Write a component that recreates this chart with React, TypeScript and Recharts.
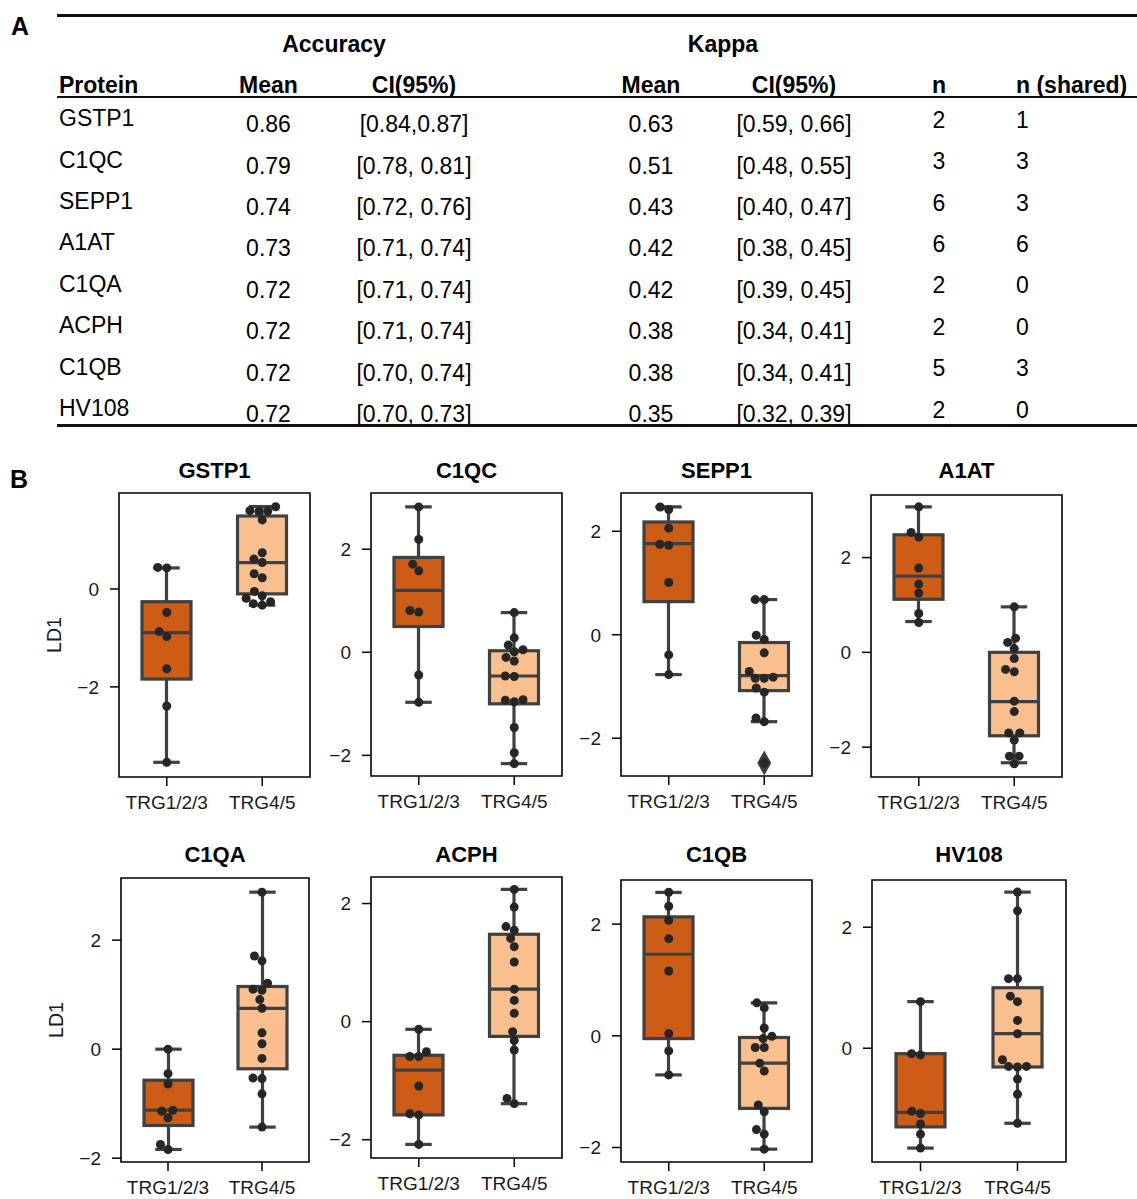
import React from "react";
import { ComposedChart, Bar, Scatter, XAxis, YAxis, ReferenceArea } from "recharts";

const FONT = '"Liberation Sans", Arial, Helvetica, sans-serif';
const INK = "#1a1a1a";
const BOX_EDGE = "#404040";
const DOT = "#262626";
const boxColors = ["#cd5c17", "#f9bf8f"];

// ---- panel A (table) ----
const proteins = ["GSTP1", "C1QC", "SEPP1", "A1AT", "C1QA", "ACPH", "C1QB", "HV108"];
const accMean = ["0.86", "0.79", "0.74", "0.73", "0.72", "0.72", "0.72", "0.72"];
const accCI = ["[0.84,0.87]", "[0.78, 0.81]", "[0.72, 0.76]", "[0.71, 0.74]", "[0.71, 0.74]", "[0.71, 0.74]", "[0.70, 0.74]", "[0.70, 0.73]"];
const kappaMean = ["0.63", "0.51", "0.43", "0.42", "0.42", "0.38", "0.38", "0.35"];
const kappaCI = ["[0.59, 0.66]", "[0.48, 0.55]", "[0.40, 0.47]", "[0.38, 0.45]", "[0.39, 0.45]", "[0.34, 0.41]", "[0.34, 0.41]", "[0.32, 0.39]"];
const nFeatures = [2, 3, 6, 6, 2, 2, 5, 2];
const nShared = [1, 3, 3, 6, 0, 0, 3, 0];

// ---- panel B (box plots), one pair [TRG1/2/3, TRG4/5] per protein ----
const groups = ["TRG1/2/3", "TRG4/5"];
const whiskerHigh = [[0.43, 1.68], [2.82, 0.77], [2.47, 0.68], [3.07, 0.96], [0.0, 2.88], [-0.13, 2.24], [2.57, 0.59], [0.77, 2.58]];
const q3 = [[-0.26, 1.49], [1.84, 0.03], [2.18, -0.15], [2.48, 0.0], [-0.57, 1.15], [-0.57, 1.48], [2.13, -0.03], [-0.09, 1.0]];
const medians = [[-0.89, 0.54], [1.2, -0.46], [1.76, -0.79], [1.61, -1.04], [-1.12, 0.75], [-0.82, 0.55], [1.46, -0.49], [-1.06, 0.24]];
const q1 = [[-1.84, -0.1], [0.5, -1.0], [0.64, -1.08], [1.12, -1.76], [-1.4, -0.36], [-1.58, -0.25], [-0.05, -1.3], [-1.3, -0.31]];
const whiskerLow = [[-3.54, -0.33], [-0.97, -2.16], [-0.77, -1.68], [0.65, -2.33], [-1.84, -1.43], [-2.08, -1.39], [-0.7, -2.03], [-1.65, -1.24]];

const trg123Points = [
  [0.44, 0.43, -0.48, -0.87, -0.97, -1.63, -2.39, -3.54],
  [2.82, 2.19, 1.71, 1.58, 0.81, 0.78, -0.44, -0.97],
  [2.47, 2.42, 2.06, 1.75, 1.73, 1.01, -0.39, -0.77],
  [3.07, 2.53, 2.43, 1.78, 1.44, 1.25, 0.82, 0.63],
  [0.0, -0.45, -0.64, -1.12, -1.14, -1.26, -1.75, -1.84],
  [-0.13, -0.51, -0.59, -0.59, -1.09, -1.56, -1.58, -2.08],
  [2.57, 2.32, 2.07, 1.74, 1.16, 0.04, -0.27, -0.7],
  [0.77, -0.09, -0.11, -1.04, -1.08, -1.25, -1.42, -1.65],
];
const trg45Points = [
  [1.68, 1.6, 1.59, 1.58, 1.41, 0.74, 0.61, 0.54, 0.31, 0.23, -0.05, -0.14, -0.19, -0.26, -0.3, -0.33],
  [0.77, 0.28, 0.14, 0.05, 0.01, -0.1, -0.17, -0.46, -0.47, -0.92, -0.93, -0.96, -1.46, -1.95, -2.16],
  [0.68, 0.68, -0.01, -0.09, -0.35, -0.71, -0.82, -0.84, -0.84, -1.03, -1.11, -1.61, -1.68, -2.48],
  [0.96, 0.3, 0.21, 0.08, -0.13, -0.36, -0.41, -1.03, -1.25, -1.7, -1.7, -1.85, -2.19, -2.19, -2.35],
  [2.88, 1.71, 1.62, 1.21, 1.1, 1.08, 0.91, 0.75, 0.3, 0.1, -0.17, -0.53, -0.54, -0.82, -1.43],
  [2.24, 1.94, 1.61, 1.55, 1.41, 1.27, 1.01, 0.55, 0.36, 0.14, -0.17, -0.32, -0.48, -1.3, -1.39],
  [0.59, 0.5, 0.14, -0.01, -0.05, -0.21, -0.21, -0.49, -0.63, -1.24, -1.36, -1.68, -1.76, -2.03],
  [2.58, 2.27, 1.15, 1.15, 0.86, 0.77, 0.46, 0.24, -0.19, -0.3, -0.31, -0.3, -0.51, -0.76, -1.24],
];
const fliersTrg45 = [[], [], [-2.48], [], [], [], [], []];

const yDomains = [[-3.84, 1.96], [-2.4, 3.09], [-2.73, 2.74], [-2.63, 3.32], [-2.07, 3.14], [-2.31, 2.45], [-2.26, 2.79], [-1.88, 2.78]];
const yTicks = [[-2, 0], [-2, 0, 2], [-2, 0, 2], [-2, 0, 2], [-2, 0, 2], [-2, 0, 2], [-2, 0, 2], [0, 2]];

// plot frames in page pixels
const frames = [
  { left: 119, top: 493, width: 191, height: 284 },
  { left: 371, top: 493, width: 191, height: 283 },
  { left: 621, top: 493, width: 191, height: 283 },
  { left: 871, top: 495, width: 191, height: 282 },
  { left: 121, top: 878, width: 188, height: 284 },
  { left: 371, top: 877, width: 191, height: 281 },
  { left: 621, top: 880, width: 191, height: 282 },
  { left: 872, top: 880, width: 194, height: 282 },
];
const titleRowY = [470.5, 470.5, 470.5, 470.5, 855, 855, 855, 855];

const Y_AXIS_W = 80;
const X_AXIS_H = 55;
const PAD_TOP = 6;
const PAD_RIGHT = 6;
const DOT_SPACING = 9;

const fmtTick = (v: number) => (v < 0 ? `\u2212${Math.abs(v)}` : `${v}`);

// simple beeswarm: place each point at the free spot nearest the centre line
function swarmOffsets(values: number[], domain: number[], plotH: number, d: number) {
  const span = domain[1] - domain[0];
  const py = values.map((v) => ((domain[1] - v) / span) * plotH);
  const order = values.map((_, i) => i).sort((a, b) => py[b] - py[a]);
  const placed: { x: number; y: number }[] = [];
  const dx = values.map(() => 0);
  order.forEach((i) => {
    const y = py[i];
    const near = placed.filter((p) => Math.abs(p.y - y) < d);
    const cands = [0];
    near.forEach((p) => {
      const o = Math.sqrt(d * d - (p.y - y) ** 2);
      cands.push(p.x - o, p.x + o);
    });
    cands.sort((a, b) => Math.abs(a) - Math.abs(b));
    const x = cands.find((c) => near.every((p) => (p.x - c) ** 2 + (p.y - y) ** 2 >= d * d - 0.01)) ?? 0;
    placed.push({ x, y });
    dx[i] = x;
  });
  return dx;
}

function BoxShape(props: any) {
  const { x, y, width, height, payload } = props;
  if (!payload || x == null) return null;
  const top = Math.min(y, y + height);
  const bottom = Math.max(y, y + height);
  const [lo, hi] = payload.range;
  const toPx = (v: number) => top + ((hi - v) / (hi - lo)) * (bottom - top);
  const cx = x + width / 2;
  const capHalf = width * 0.27;
  const yQ3 = toPx(payload.q3);
  const yQ1 = toPx(payload.q1);
  const yMed = toPx(payload.median);
  return (
    <g stroke={BOX_EDGE} strokeWidth={3.2} fill="none">
      <line x1={cx} x2={cx} y1={top} y2={yQ3} />
      <line x1={cx} x2={cx} y1={yQ1} y2={bottom} />
      <line x1={cx - capHalf} x2={cx + capHalf} y1={top} y2={top} />
      <line x1={cx - capHalf} x2={cx + capHalf} y1={bottom} y2={bottom} />
      <rect x={x} y={yQ3} width={width} height={yQ1 - yQ3} fill={payload.fill} />
      <line x1={x} x2={x + width} y1={yMed} y2={yMed} />
    </g>
  );
}

function SwarmDot(props: any) {
  const { cx, cy, payload } = props;
  if (cx == null || cy == null) return null;
  return <circle cx={cx + (payload?.dx ?? 0)} cy={cy} r={4.5} fill={DOT} />;
}

function FlierDiamond(props: any) {
  const { cx, cy } = props;
  if (cx == null || cy == null) return null;
  return <path d={`M${cx},${cy - 12.5}L${cx + 7},${cy}L${cx},${cy + 12.5}L${cx - 7},${cy}Z`} fill="#3d3d3d" />;
}

function LD1Label(props: any) {
  const vb = props.viewBox || { x: 0, y: 0, height: 0 };
  const cx = vb.x + 15;
  const cy = vb.y + vb.height / 2;
  return (
    <text x={cx} y={cy} transform={`rotate(-90 ${cx} ${cy})`} textAnchor="middle" dominantBaseline="central" fontSize={19.5} fontFamily={FONT} fill={INK}>
      LD1
    </text>
  );
}

function BoxPanel({ index }: { index: number }) {
  const f = frames[index];
  const domain = yDomains[index];
  const rows = groups.map((g, gi) => ({
    group: g,
    range: [whiskerLow[index][gi], whiskerHigh[index][gi]],
    q1: q1[index][gi],
    median: medians[index][gi],
    q3: q3[index][gi],
    fill: boxColors[gi],
  }));
  const dots = groups.flatMap((g, gi) => {
    const vals = gi === 0 ? trg123Points[index] : trg45Points[index];
    const dx = swarmOffsets(vals, domain, f.height, DOT_SPACING);
    return vals.map((v, k) => ({ group: g, value: v, dx: dx[k] }));
  });
  const fliers = fliersTrg45[index].map((v) => ({ group: groups[1], value: v }));
  const showLD1 = index % 4 === 0;
  const tickStyle = { fontSize: 19, fill: INK, fontFamily: FONT };

  return (
    <>
      <div
        style={{
          position: "absolute",
          left: f.left + f.width / 2,
          top: titleRowY[index] - 22 * 0.49,
          transform: "translateX(-50%)",
          fontSize: 22,
          lineHeight: "22px",
          fontWeight: 700,
          whiteSpace: "nowrap",
          color: "#000",
        }}
      >
        {proteins[index]}
      </div>
      <div style={{ position: "absolute", left: f.left - Y_AXIS_W, top: f.top - PAD_TOP }}>
        <ComposedChart
          width={Y_AXIS_W + f.width + PAD_RIGHT}
          height={PAD_TOP + f.height + X_AXIS_H}
          data={rows}
          margin={{ top: PAD_TOP, right: PAD_RIGHT, bottom: 0, left: 0 }}
        >
          <XAxis
            dataKey="group"
            type="category"
            allowDuplicatedCategory={false}
            height={X_AXIS_H}
            axisLine={false}
            tickLine={{ stroke: "#000", strokeWidth: 1.5 }}
            tickSize={9}
            tickMargin={10}
            interval={0}
            tick={tickStyle}
          />
          <YAxis
            type="number"
            domain={domain}
            allowDataOverflow
            ticks={yTicks[index]}
            width={Y_AXIS_W}
            axisLine={false}
            tickLine={{ stroke: "#000", strokeWidth: 1.5 }}
            tickSize={9}
            tickMargin={11}
            tick={tickStyle}
            tickFormatter={fmtTick}
            label={showLD1 ? <LD1Label /> : undefined}
          />
          <ReferenceArea y1={domain[0]} y2={domain[1]} fill="none" fillOpacity={0} stroke="#000" strokeWidth={1.6} />
          <Bar dataKey="range" barSize={49} shape={BoxShape} isAnimationActive={false} />
          <Scatter data={fliers} dataKey="value" shape={FlierDiamond} isAnimationActive={false} />
          <Scatter data={dots} dataKey="value" shape={SwarmDot} isAnimationActive={false} />
        </ComposedChart>
      </div>
    </>
  );
}

const TABLE_FS = 23;
const ROW0 = 118.5;
const ROW_STEP = 41.4;
const VALUE_SHIFT = 6;
const N_SHIFT = 1.5;

function T({ x, y, children, anchor = "middle", bold = false, size = TABLE_FS }: any) {
  return (
    <div
      style={{
        position: "absolute",
        left: x,
        top: y - size * 0.49,
        transform: anchor === "middle" ? "translateX(-50%)" : undefined,
        fontSize: size,
        lineHeight: `${size}px`,
        fontWeight: bold ? 700 : 400,
        whiteSpace: "nowrap",
        color: "#000",
      }}
    >
      {children}
    </div>
  );
}

function Rule({ y, h }: { y: number; h: number }) {
  return <div style={{ position: "absolute", left: 57, top: y - h / 2, width: 1137 - 57, height: h, background: "#111" }} />;
}

function TablePanel() {
  return (
    <>
      <T x={11} y={26} anchor="start" bold size={25}>A</T>
      <Rule y={15} h={3} />
      <T x={334} y={44} bold>Accuracy</T>
      <T x={723} y={44} bold>Kappa</T>
      <T x={59} y={85} anchor="start" bold>Protein</T>
      <T x={268.5} y={85} bold>Mean</T>
      <T x={414} y={85} bold>CI(95%)</T>
      <T x={651} y={85} bold>Mean</T>
      <T x={794} y={85} bold>CI(95%)</T>
      <T x={939} y={85} bold>n</T>
      <T x={1016} y={85} anchor="start" bold>n (shared)</T>
      <Rule y={97} h={2.6} />
      {proteins.map((p, i) => {
        const y = ROW0 + i * ROW_STEP;
        return (
          <React.Fragment key={p}>
            <T x={59} y={y} anchor="start">{p}</T>
            <T x={268.5} y={y + VALUE_SHIFT}>{accMean[i]}</T>
            <T x={414} y={y + VALUE_SHIFT}>{accCI[i]}</T>
            <T x={651} y={y + VALUE_SHIFT}>{kappaMean[i]}</T>
            <T x={794} y={y + VALUE_SHIFT}>{kappaCI[i]}</T>
            <T x={939} y={y + N_SHIFT}>{nFeatures[i]}</T>
            <T x={1016} y={y + N_SHIFT} anchor="start">{nShared[i]}</T>
          </React.Fragment>
        );
      })}
      <Rule y={425.5} h={3.2} />
    </>
  );
}

export default function App() {
  return (
    <div
      style={{
        position: "absolute",
        left: 0,
        top: 0,
        width: 1137,
        height: 1199,
        background: "#fff",
        fontFamily: FONT,
        overflow: "hidden",
      }}
    >
      <TablePanel />
      <T x={10} y={479} anchor="start" bold size={25}>B</T>
      {proteins.map((p, i) => (
        <BoxPanel key={p} index={i} />
      ))}
    </div>
  );
}
